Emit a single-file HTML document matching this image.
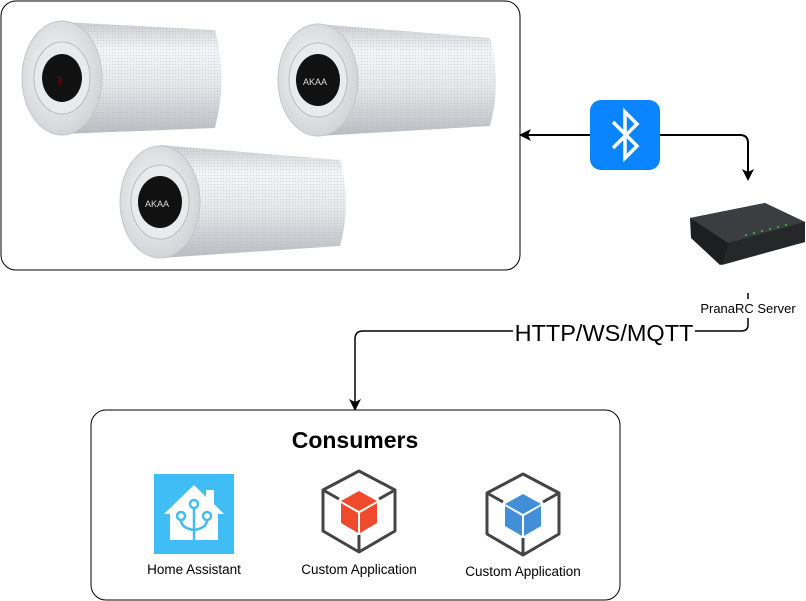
<!DOCTYPE html>
<html><head><style>body{margin:0;background:#fff}svg{display:block;font-family:"Liberation Sans",sans-serif}</style></head><body>
<svg width="806" height="601" viewBox="0 0 806 601" xmlns="http://www.w3.org/2000/svg">
<defs>
<linearGradient id="cyl" x1="0" y1="0" x2="0" y2="1">
<stop offset="0" stop-color="#c9ccd0"/><stop offset="0.25" stop-color="#f4f5f7"/><stop offset="0.55" stop-color="#e6e8eb"/><stop offset="1" stop-color="#b9bcc1"/></linearGradient>
<radialGradient id="cap" cx="0.45" cy="0.45" r="0.6"><stop offset="0" stop-color="#fafafa"/><stop offset="1" stop-color="#cfd1d4"/></radialGradient>
<pattern id="mesh" width="3" height="3" patternUnits="userSpaceOnUse"><rect width="3" height="3" fill="none"/><circle cx="1.5" cy="1.5" r="0.6" fill="#b0b4ba" opacity="0.5"/></pattern>
<marker id="ar" markerWidth="12" markerHeight="12" refX="10" refY="6" orient="auto" markerUnits="userSpaceOnUse"><path d="M0,0 L12,6 L0,12 L3,6z" fill="#000"/></marker>
</defs>
<rect x="1" y="1" width="519" height="269" rx="15" fill="#fff" stroke="#000" stroke-width="1"/>
<g>
<path d="M62,22 L215,30 Q228,78 215,128 L62,134 Z" fill="url(#cyl)"/>
<path d="M62,22 L215,30 Q228,78 215,128 L62,134 Z" fill="url(#mesh)"/>
<ellipse cx="62" cy="78" rx="40" ry="57" fill="url(#cap)" stroke="#c4c6ca"/>
<ellipse cx="62" cy="78" rx="28" ry="36" fill="#e9eaec" stroke="#bbb"/>
<ellipse cx="62" cy="78" rx="20" ry="24" fill="#111"/>
<text x="57" y="84" font-size="10" fill="#b00">ᚱ</text>
</g>
<g>
<path d="M318,24 L490,38 Q502,82 490,126 L318,136 Z" fill="url(#cyl)"/>
<path d="M318,24 L490,38 Q502,82 490,126 L318,136 Z" fill="url(#mesh)"/>
<ellipse cx="318" cy="80" rx="40" ry="56" fill="url(#cap)" stroke="#c4c6ca"/>
<ellipse cx="318" cy="80" rx="29" ry="37" fill="#e9eaec" stroke="#bbb"/>
<ellipse cx="318" cy="80" rx="22" ry="26" fill="#111"/>
<text x="303" y="85" font-size="9" fill="#ddd">AKAA</text>
</g>
<g>
<path d="M160,145 L340,160 Q352,203 340,246 L160,258 Z" fill="url(#cyl)"/>
<path d="M160,145 L340,160 Q352,203 340,246 L160,258 Z" fill="url(#mesh)"/>
<ellipse cx="160" cy="202" rx="40" ry="56" fill="url(#cap)" stroke="#c4c6ca"/>
<ellipse cx="160" cy="202" rx="29" ry="37" fill="#e9eaec" stroke="#bbb"/>
<ellipse cx="160" cy="202" rx="22" ry="26" fill="#111"/>
<text x="145" y="207" font-size="9" fill="#ddd">AKAA</text>
</g>
<path d="M590,135 L521,135" stroke="#000" stroke-width="2" fill="none" marker-end="url(#ar)"/>
<path d="M660,135 L740,135 Q748,135 748,143 L748,179" stroke="#000" stroke-width="2" fill="none" marker-end="url(#ar)"/>
<rect x="590" y="100" width="70" height="70" rx="11" fill="#0a84ff"/>
<path d="M613,122 L637,146 L625,158 L625,112 L637,124 L613,148" stroke="#fff" stroke-width="3.5" fill="none" stroke-linejoin="miter"/>
<g>
<path d="M690,218 L765,203 L805,222 L805,242 L720,265 L691,238 Z" fill="#1d1e20"/>
<path d="M690,218 L765,203 L805,222 L728,243 Z" fill="#3b3d40"/>
<path d="M728,243 L805,222 L805,242 L722,265 Z" fill="#262729"/>
<g fill="#2ecc40"><circle cx="746" cy="235" r="1"/><circle cx="754" cy="233" r="1"/><circle cx="762" cy="231" r="1"/><circle cx="770" cy="229" r="1"/><circle cx="778" cy="227" r="1"/><circle cx="786" cy="225" r="1"/></g>
</g>
<line x1="748" y1="293" x2="748" y2="299" stroke="#000" stroke-width="1.5"/>
<text x="748" y="313" font-size="13" text-anchor="middle" fill="#000">PranaRC Server</text>
<path d="M748,318 L748,325 Q748,331 741,331 L695,331" stroke="#000" stroke-width="1.5" fill="none"/>
<path d="M513,331 L363,331 Q355,331 355,339 L355,409" stroke="#000" stroke-width="1.5" fill="none" marker-end="url(#ar)"/>
<text x="604" y="341" font-size="23.5" text-anchor="middle" fill="#000">HTTP/WS/MQTT</text>
<rect x="91" y="410" width="529" height="190" rx="15" fill="#fff" stroke="#000"/>
<text x="355" y="448" font-size="23" font-weight="bold" text-anchor="middle">Consumers</text>
<rect x="154" y="474" width="80" height="80" fill="#41bdf5"/>
<path d="M164,514 L194,485 L206,497 L206,490 L214,490 L214,504 L224,514 L218,514 L218,540 L170,540 L170,514 Z" fill="#fff"/>
<g stroke="#41bdf5" stroke-width="2.5" fill="none"><circle cx="194" cy="504" r="4"/><circle cx="181" cy="516" r="4"/><circle cx="207" cy="516" r="4"/><path d="M194,508 L194,540 M181,520 Q181,528 194,530 M207,520 Q207,528 194,530"/></g>
<text x="194" y="574" font-size="13.5" text-anchor="middle">Home Assistant</text>
<g stroke="#444" stroke-width="3" fill="none" stroke-linejoin="round"><path d="M359,471 L395,490 L395,531 L359,552 L323,531 L323,490 Z"/><path d="M323,490 L339,499 M395,490 L379,499 M359,552 L359,535"/></g>
<path d="M359,491 L377,501 L359,511 L341,501 Z" fill="#f04a2c"/><path d="M341,503 L358,513 L358,533 L341,523 Z" fill="#f04a2c"/><path d="M360,513 L377,503 L377,523 L360,533 Z" fill="#f04a2c"/>
<text x="359" y="574" font-size="13.5" text-anchor="middle">Custom Application</text>
<g stroke="#444" stroke-width="3" fill="none" stroke-linejoin="round"><path d="M523,474 L559,493 L559,534 L523,555 L487,534 L487,493 Z"/><path d="M487,493 L503,502 M559,493 L543,502 M523,555 L523,538"/></g>
<path d="M523,494 L541,504 L523,514 L505,504 Z" fill="#428fd8"/><path d="M505,506 L522,516 L522,536 L505,526 Z" fill="#428fd8"/><path d="M524,516 L541,506 L541,526 L524,536 Z" fill="#428fd8"/>
<text x="523" y="576" font-size="13.5" text-anchor="middle">Custom Application</text>
</svg>
</body></html>
